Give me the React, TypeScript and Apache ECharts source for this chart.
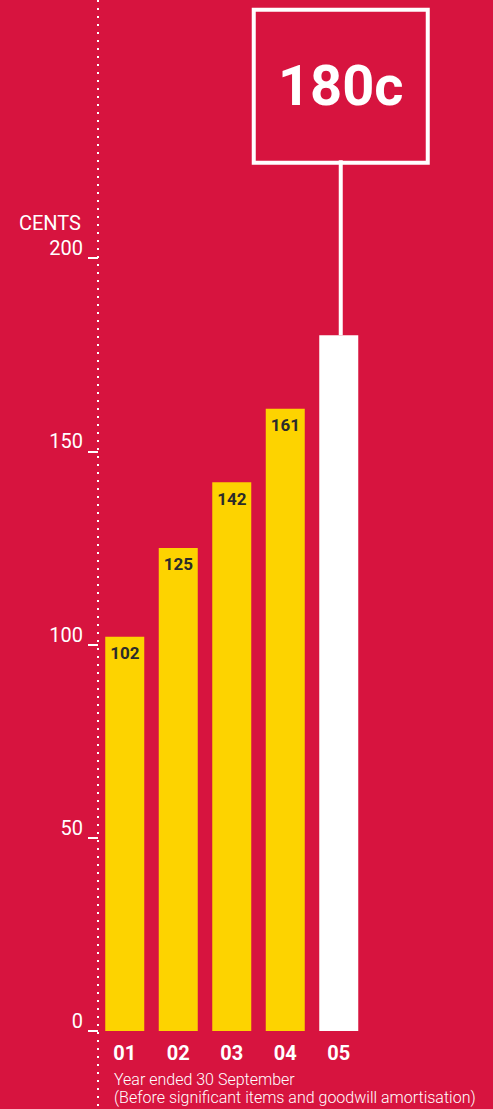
import React, { useEffect, useRef } from "react";
import * as echarts from "echarts";

const YEARS = ["01", "02", "03", "04", "05"];
const EPS_CENTS = [102, 125, 142, 161, 180];
const HIGHLIGHT_LABEL = "180c";
const Y_MIN = 0;
const Y_MAX = 200;
const Y_INTERVAL = 50;
const AXIS_NAME = "CENTS";
const NOTE_LINES = [
  "Year ended 30 September",
  "(Before significant items and goodwill amortisation)",
];

const BG = "#D7143F";
const YELLOW = "#FDD300";
const WHITE = "#FFFFFF";
const DARK = "#2B2B2B";
const FONT = "Roboto";

export default function App() {
  const ref = useRef<HTMLDivElement>(null);

  useEffect(() => {
    if (!ref.current) return;
    const chart = echarts.init(ref.current, null, { renderer: "svg" });
    const last = YEARS.length - 1;

    const data = EPS_CENTS.map((v, i) =>
      i === last
        ? {
            value: v,
            itemStyle: { color: WHITE },
            label: {
              show: true,
              position: "top",
              distance: 0,
              formatter: `{box|${HIGHLIGHT_LABEL}}\n{stem|}`,
              offset: [2, 0],
              rich: {
                box: {
                  width: 174,
                  height: 153,
                  lineHeight: 148,
                  align: "center",
                  verticalAlign: "middle",
                  borderColor: WHITE,
                  borderWidth: 4,
                  color: WHITE,
                  fontSize: 56,
                  fontWeight: "bold",
                  fontFamily: FONT,
                },
                stem: {
                  width: 4,
                  height: 175,
                  lineHeight: 175,
                  align: "center",
                  backgroundColor: WHITE,
                },
              },
            },
          }
        : { value: v, itemStyle: { color: YELLOW } }
    );

    chart.setOption({
      animation: false,
      backgroundColor: BG,
      grid: { left: 98, width: 267.5, top: 258, bottom: 78, containLabel: false },
      xAxis: {
        type: "category",
        data: YEARS,
        axisLine: { show: false },
        axisTick: { show: false },
        axisLabel: {
          color: WHITE,
          fontSize: 20,
          fontWeight: "bold",
          fontFamily: FONT,
          margin: 12,
        },
      },
      yAxis: {
        type: "value",
        min: Y_MIN,
        max: Y_MAX,
        interval: Y_INTERVAL,
        name: AXIS_NAME,
        nameLocation: "end",
        nameGap: 25,
        nameTextStyle: {
          color: WHITE,
          fontSize: 20,
          fontFamily: FONT,
          align: "right",
          padding: [0, 17, 0, 0],
        },
        axisLine: { show: false },
        axisTick: {
          show: true,
          length: 10,
          lineStyle: { color: WHITE, width: 2 },
        },
        splitLine: { show: false },
        axisLabel: {
          color: WHITE,
          fontSize: 20,
          fontFamily: FONT,
          margin: 15,
          verticalAlign: "bottom",
        },
      },
      graphic: [
        {
          type: "line",
          shape: { x1: 98, y1: 0, x2: 98, y2: 1109 },
          style: { stroke: WHITE, lineWidth: 2, lineDash: [2, 6] },
          z: 10,
        },
        ...NOTE_LINES.map((t, i) => ({
          type: "text",
          left: 114,
          top: 1071 + i * 18,
          style: {
            text: t,
            fill: WHITE,
            fontSize: 16,
            fontFamily: FONT,
            fontWeight: 300,
          },
        })),
      ],
      series: [
        {
          type: "bar",
          data,
          barWidth: 39,
          label: {
            show: true,
            position: "insideTop",
            distance: 8,
            color: DARK,
            fontSize: 17,
            fontWeight: "bold",
            fontFamily: FONT,
          },
        },
      ],
    });

    return () => chart.dispose();
  }, []);

  return (
    <div
      ref={ref}
      style={{
        position: "absolute",
        left: 0,
        top: 0,
        width: 493,
        height: 1109,
        background: BG,
      }}
    />
  );
}
